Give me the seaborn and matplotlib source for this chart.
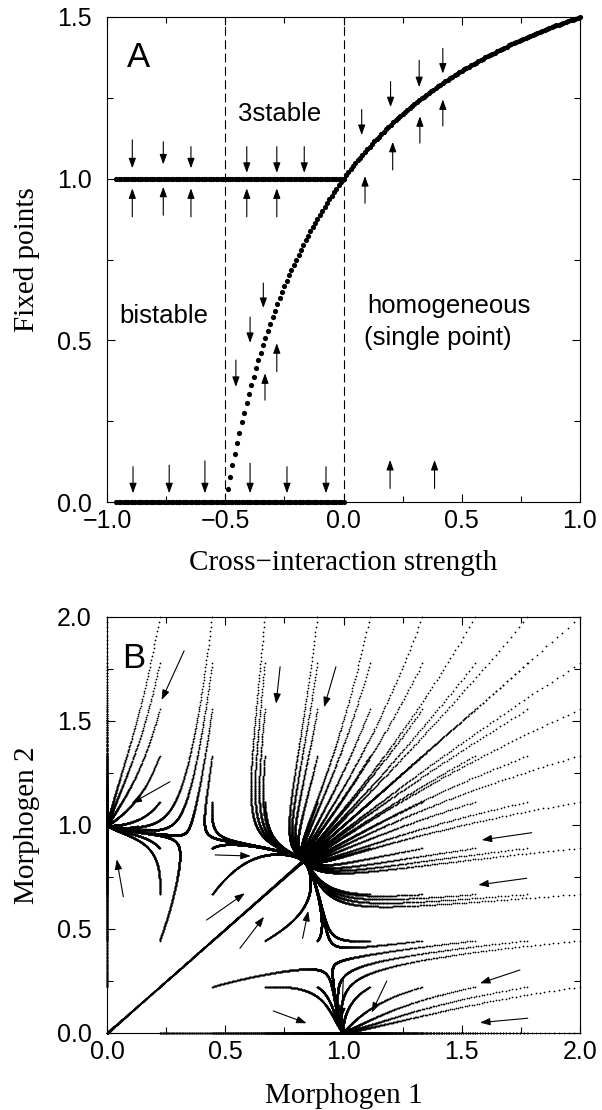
import numpy as np
import pandas as pd
import matplotlib
matplotlib.use("Agg")
import matplotlib.pyplot as plt
import seaborn as sns

# ---------------- panel A: fixed points vs cross-interaction ----------------
g_start, g_step = -0.50, 0.01          # homogeneous branch, one dot per 0.01
homog_fp = [0.000, 0.039, 0.077, 0.113, 0.148, 0.182, 0.214, 0.246, 0.276, 0.305,
            0.333, 0.361, 0.387, 0.413, 0.438, 0.462, 0.485, 0.507, 0.529, 0.551,
            0.571, 0.592, 0.611, 0.630, 0.649, 0.667, 0.684, 0.701, 0.718, 0.734,
            0.750, 0.765, 0.780, 0.795, 0.810, 0.824, 0.837, 0.851, 0.864, 0.876,
            0.889, 0.901, 0.913, 0.925, 0.936, 0.947, 0.958, 0.969, 0.980, 0.990,
            1.000, 1.010, 1.020, 1.029, 1.038, 1.048, 1.057, 1.065, 1.074, 1.083,
            1.091, 1.099, 1.107, 1.115, 1.123, 1.130, 1.138, 1.145, 1.153, 1.160,
            1.167, 1.174, 1.180, 1.187, 1.194, 1.200, 1.206, 1.213, 1.219, 1.225,
            1.231, 1.237, 1.242, 1.248, 1.254, 1.259, 1.265, 1.270, 1.275, 1.281,
            1.286, 1.291, 1.296, 1.301, 1.306, 1.310, 1.315, 1.320, 1.324, 1.329,
            1.333, 1.338, 1.342, 1.346, 1.351, 1.355, 1.359, 1.363, 1.367, 1.371,
            1.375, 1.379, 1.383, 1.387, 1.390, 1.394, 1.398, 1.401, 1.405, 1.408,
            1.412, 1.415, 1.419, 1.422, 1.425, 1.429, 1.432, 1.435, 1.438, 1.441,
            1.444, 1.448, 1.451, 1.454, 1.457, 1.459, 1.462, 1.465, 1.468, 1.471,
            1.474, 1.476, 1.479, 1.482, 1.485, 1.487, 1.490, 1.492, 1.495, 1.497,
            1.500]
hetero_start, hetero_end = -0.96, 0.00  # heterogeneous branches (0 and 1)
hetero_levels = [0.0, 1.0]
boundaries = [-0.5, 0.0]

# small stability arrows of panel A: x, tail y, head y
arrA_x = [-0.893, -0.762, -0.645, -0.409, -0.282, -0.166,
          -0.893, -0.762, -0.645, -0.409, -0.282,
          0.077, 0.199, 0.320, 0.420,
          0.091, 0.208, 0.323, 0.420,
          -0.339, -0.395, -0.455,
          -0.282, -0.332,
          -0.890, -0.737, -0.586, -0.395, -0.239, -0.074,
          0.197, 0.385]
arrA_tail = [1.120, 1.114, 1.099, 1.099, 1.099, 1.099,
             0.882, 0.887, 0.882, 0.882, 0.882,
             1.214, 1.300, 1.366, 1.403,
             0.924, 1.027, 1.110, 1.163,
             0.677, 0.572, 0.439,
             0.403, 0.315,
             0.109, 0.114, 0.127, 0.120, 0.109, 0.109,
             0.042, 0.042]
arrA_head = [1.032, 1.044, 1.032, 1.018, 1.018, 1.018,
             0.970, 0.975, 0.970, 0.970, 0.970,
             1.135, 1.221, 1.283, 1.325,
             1.008, 1.114, 1.193, 1.245,
             0.600, 0.492, 0.356,
             0.491, 0.398,
             0.027, 0.027, 0.027, 0.027, 0.027, 0.027,
             0.130, 0.130]
a_ticks = [-1.0, -0.5, 0.0, 0.5, 1.0]
a_tick_labels = ["\u22121.0", "\u22120.5", "0.0", "0.5", "1.0"]
a_yticks = [0.0, 0.5, 1.0, 1.5]
a_ytick_labels = ["0.0", "0.5", "1.0", "1.5"]

# ---------------- panel B: phase portrait ----------------
grid_vals = [0.0, 0.222, 0.444, 0.667, 0.889, 1.111, 1.333, 1.556, 1.778, 2.0]
# cross-inhibition of the model: amplitude, half point, Hill exponent
inhib_amp, inhib_half, inhib_hill = 2.0, 0.2487, 1.8
dt, t_end = 0.012, 14.0

arrB_tail_x = [0.326, 0.266, 0.231, 0.069, 0.457, 0.421, 0.562, 0.827, 0.703,
               0.999, 1.183, 1.746, 1.779, 1.796, 1.775, 0.732, 0.968]
arrB_tail_y = [1.837, 1.208, 0.976, 0.655, 0.856, 0.543, 0.407, 0.455, 0.106,
               0.255, 0.250, 0.303, 0.071, 0.963, 0.744, 1.761, 1.761]
arrB_head_x = [0.231, 0.104, 0.090, 0.041, 0.608, 0.583, 0.664, 0.851, 0.844,
               0.992, 1.119, 1.577, 1.577, 1.584, 1.570, 0.715, 0.918]
arrB_head_y = [1.601, 1.104, 0.984, 0.835, 0.851, 0.672, 0.559, 0.587, 0.047,
               0.071, 0.098, 0.239, 0.050, 0.928, 0.712, 1.583, 1.566]
b_ticks = [0.0, 0.5, 1.0, 1.5, 2.0]
b_tick_labels = ["0.0", "0.5", "1.0", "1.5", "2.0"]


def inhib(v):
    return inhib_amp / (1 + (np.abs(v) / inhib_half) ** inhib_hill)


def rhs(x, y):
    return x * (1 - x - y * inhib(x)), y * (1 - y - x * inhib(y))


def integrate(x0, y0):
    x, y = np.array(x0, float), np.array(y0, float)
    xs, ys = [x.copy()], [y.copy()]
    for _ in range(int(round(t_end / dt))):
        k1 = rhs(x, y)
        k2 = rhs(x + dt / 2 * k1[0], y + dt / 2 * k1[1])
        k3 = rhs(x + dt / 2 * k2[0], y + dt / 2 * k2[1])
        k4 = rhs(x + dt * k3[0], y + dt * k3[1])
        x = x + dt / 6 * (k1[0] + 2 * k2[0] + 2 * k3[0] + k4[0])
        y = y + dt / 6 * (k1[1] + 2 * k2[1] + 2 * k3[1] + k4[1])
        xs.append(x.copy())
        ys.append(y.copy())
    return np.concatenate(xs), np.concatenate(ys)


sns.set_style("ticks", rc={"axes.edgecolor": "black", "xtick.color": "black",
                           "ytick.color": "black", "text.color": "black",
                           "axes.labelcolor": "black"})
plt.rcParams["font.family"] = ["Liberation Sans", "DejaVu Sans"]
serif = ["Liberation Serif", "DejaVu Serif"]

fig = plt.figure(figsize=(6.02, 11.10), dpi=100)
axA = fig.add_axes([107 / 602, 1 - 502 / 1110, 473 / 602, 485 / 1110])
axB = fig.add_axes([107 / 602, 1 - 1033 / 1110, 473 / 602, 416 / 1110])

arrow_kw = dict(arrowstyle="-|>,head_length=0.5,head_width=0.18", mutation_scale=12,
                lw=0.8, color="black", shrinkA=0, shrinkB=0)

# ---- panel A ----
g_hom = np.round(g_start + g_step * np.arange(len(homog_fp)), 2)
n_het = int(round((hetero_end - hetero_start) / g_step)) + 1
g_het = np.round(hetero_start + g_step * np.arange(n_het), 2)
dfA = pd.concat([pd.DataFrame({"g": g_hom, "fp": homog_fp})] +
                [pd.DataFrame({"g": g_het, "fp": lvl}) for lvl in hetero_levels])
sns.scatterplot(data=dfA, x="g", y="fp", s=14, color="black", linewidth=0,
                ax=axA, clip_on=False, zorder=3)
for b in boundaries:
    axA.axvline(b, color="black", lw=0.8, ls=(0, (8, 4)))
for x, t, h in zip(arrA_x, arrA_tail, arrA_head):
    axA.annotate("", xy=(x, h), xytext=(x, t), arrowprops=arrow_kw)

axA.text(-0.915, 1.375, "A", fontsize=25, ha="left", va="center")
axA.text(-0.269, 1.200, "3stable", fontsize=18.5, ha="center", va="center")
axA.text(-0.948, 0.575, "bistable", fontsize=18.5, ha="left", va="center")
axA.text(0.101, 0.607, "homogeneous", fontsize=18.5, ha="left", va="center")
axA.text(0.088, 0.508, "(single point)", fontsize=18.5, ha="left", va="center")

axA.set_xlim(-1, 1)
axA.set_ylim(0, 1.5)
axA.set_xticks(a_ticks)
axA.set_xticklabels(a_tick_labels)
axA.set_xticks([-0.75, -0.25, 0.25, 0.75], minor=True)
axA.set_yticks(a_yticks)
axA.set_yticklabels(a_ytick_labels)
axA.set_yticks([0.25, 0.75, 1.25], minor=True)
axA.set_xlabel("Cross\u2212interaction strength", fontsize=21, family=serif)
axA.set_ylabel("Fixed points", fontsize=21, family=serif)
axA.xaxis.set_label_coords(0.5, -0.099)
axA.yaxis.set_label_coords(-0.142, 0.5)

# ---- panel B ----
sx, sy = np.meshgrid(grid_vals, grid_vals)
sx, sy = sx.ravel(), sy.ravel()
origin = (sx == 0) & (sy == 0)
sx[origin] = 0.002      # start just off the unstable origin
sy[origin] = 0.002
tx, ty = integrate(sx, sy)
keep = (tx >= -0.01) & (tx <= 2.01) & (ty >= -0.01) & (ty <= 2.01)
dfB = pd.DataFrame({"m1": tx[keep], "m2": ty[keep]})
sns.scatterplot(data=dfB, x="m1", y="m2", s=1.6, color="black", linewidth=0,
                ax=axB, clip_on=False, rasterized=True)
for x0, y0, x1, y1 in zip(arrB_tail_x, arrB_tail_y, arrB_head_x, arrB_head_y):
    axB.annotate("", xy=(x1, y1), xytext=(x0, y0), arrowprops=arrow_kw)
axB.text(0.063, 1.80, "B", fontsize=25, ha="left", va="center")

axB.set_xlim(0, 2)
axB.set_ylim(0, 2)
axB.set_xticks(b_ticks)
axB.set_xticklabels(b_tick_labels)
axB.set_yticks(b_ticks)
axB.set_yticklabels(b_tick_labels)
axB.set_xticks([0.25, 0.75, 1.25, 1.75], minor=True)
axB.set_yticks([0.25, 0.75, 1.25, 1.75], minor=True)
axB.set_xlabel("Morphogen 1", fontsize=21, family=serif)
axB.set_ylabel("Morphogen 2", fontsize=21, family=serif)
axB.xaxis.set_label_coords(0.5, -0.12)
axB.yaxis.set_label_coords(-0.142, 0.5)

for ax in (axA, axB):
    ax.tick_params(which="both", direction="in", top=True, right=True,
                   width=0.8, labelsize=18)
    ax.tick_params(which="major", length=6)
    ax.tick_params(which="minor", length=4.5)
    ax.tick_params(axis="x", which="major", pad=5)
    ax.tick_params(axis="y", which="major", pad=11)
    for sp in ax.spines.values():
        sp.set_linewidth(0.8)
        sp.set_color("black")

fig.savefig("out.png", dpi=100)
